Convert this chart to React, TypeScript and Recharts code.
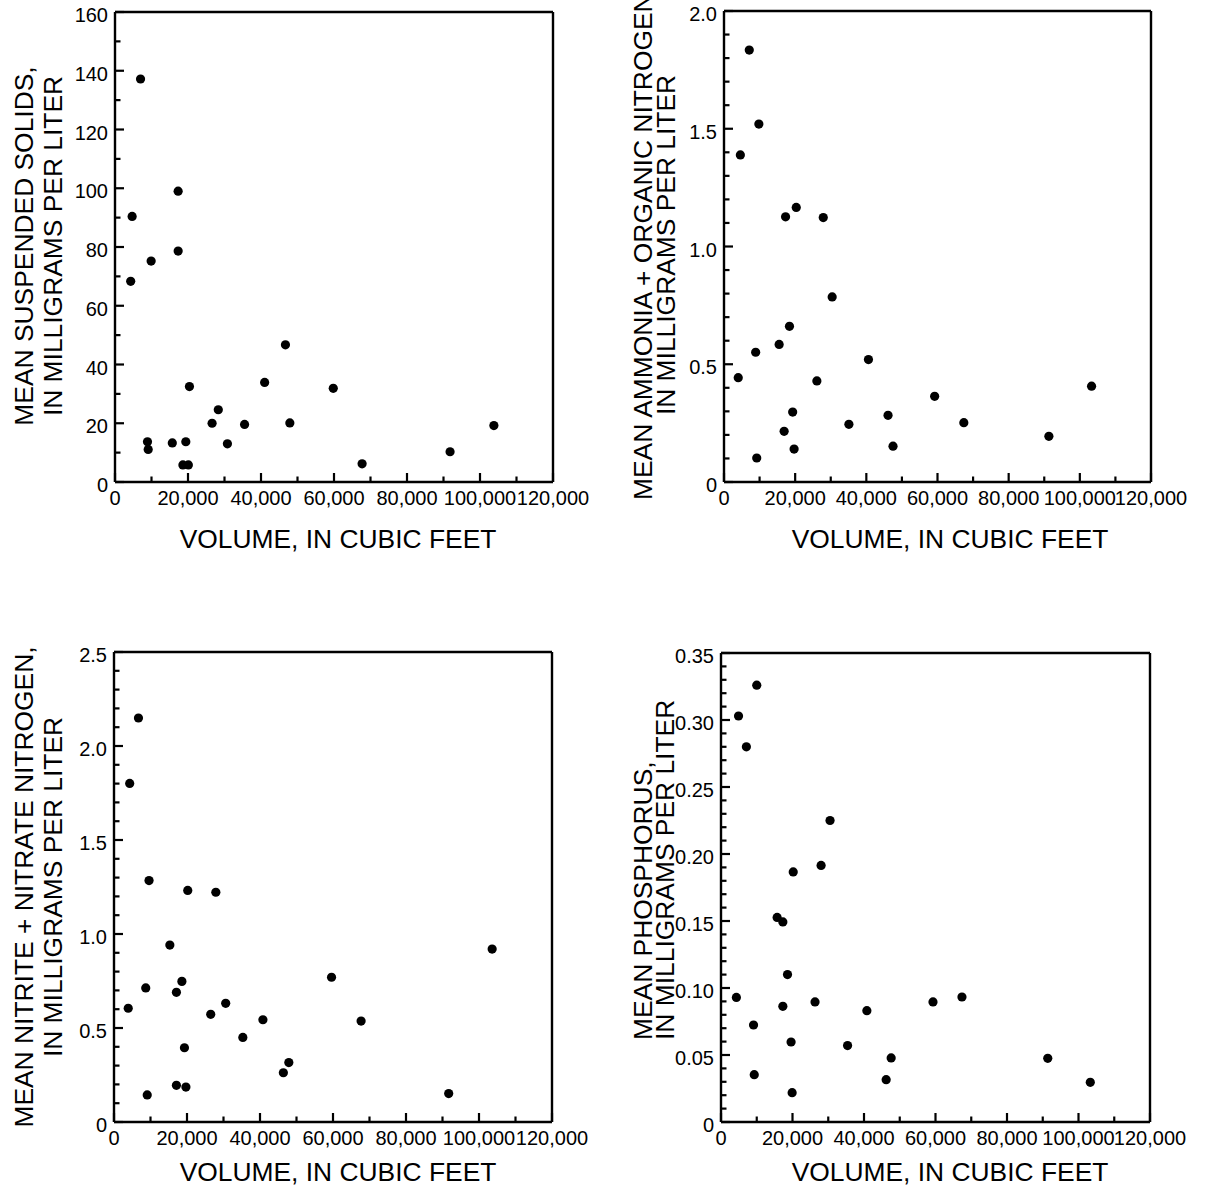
import React from 'react';
import { ScatterChart, Scatter, XAxis, YAxis } from 'recharts';

const FONT = '"Liberation Sans", Arial, Helvetica, sans-serif';

// ---- shared x axis ----
const volumeMajorTicks = [0, 20000, 40000, 60000, 80000, 100000, 120000];
const volumeMinorTicks = [10000, 30000, 50000, 70000, 90000, 110000];
const volumeTickLabels = ['0', '20,000', '40,000', '60,000', '80,000', '100,000', '120,000'];

// ---- panel 1: suspended solids ----
const solidsVolume = [7000, 4700, 17300, 17300, 9900, 4300, 46700, 41000, 59800, 20400, 28300, 26600, 35500, 47900, 103800, 8900, 9100, 15700, 19400, 30800, 18600, 20100, 91800, 67700];
const solidsValue = [137.2, 90.4, 99.0, 78.6, 75.2, 68.3, 46.7, 33.9, 31.9, 32.5, 24.6, 20.0, 19.6, 20.1, 19.2, 13.7, 11.1, 13.3, 13.7, 13.0, 5.8, 5.8, 10.3, 6.2];
const solidsMajorTicks = [0, 20, 40, 60, 80, 100, 120, 140, 160];
const solidsMinorTicks = [10, 30, 50, 70, 90, 110, 130, 150];
const solidsTickLabels = ['0', '20', '40', '60', '80', '100', '120', '140', '160'];

// ---- panel 2: ammonia + organic nitrogen ----
const ammoniaVolume = [7100, 9800, 4600, 17300, 20300, 27900, 30400, 18400, 15500, 8900, 4000, 40600, 26100, 59200, 103300, 19300, 46100, 35100, 67400, 16900, 91300, 19700, 47500, 9200];
const ammoniaValue = [1.834, 1.52, 1.389, 1.126, 1.166, 1.123, 0.786, 0.661, 0.584, 0.551, 0.443, 0.52, 0.429, 0.364, 0.407, 0.297, 0.283, 0.245, 0.252, 0.215, 0.194, 0.14, 0.152, 0.102];
const ammoniaMajorTicks = [0, 0.5, 1.0, 1.5, 2.0];
const ammoniaMinorTicks = [0.1, 0.2, 0.3, 0.4, 0.6, 0.7, 0.8, 0.9, 1.1, 1.2, 1.3, 1.4, 1.6, 1.7, 1.8, 1.9];
const ammoniaTickLabels = ['0', '0.5', '1.0', '1.5', '2.0'];

// ---- panel 3: nitrite + nitrate nitrogen ----
const nitrateVolume = [6700, 4300, 9600, 20200, 27900, 15300, 103600, 59600, 8700, 18600, 17100, 3900, 30600, 26500, 40800, 67700, 35300, 19300, 47900, 46400, 17100, 19700, 9100, 91700];
const nitrateValue = [2.149, 1.801, 1.284, 1.232, 1.222, 0.941, 0.92, 0.77, 0.713, 0.748, 0.69, 0.605, 0.631, 0.573, 0.544, 0.537, 0.45, 0.395, 0.316, 0.262, 0.195, 0.186, 0.144, 0.151];
const nitrateMajorTicks = [0, 0.5, 1.0, 1.5, 2.0, 2.5];
const nitrateMinorTicks = [0.1, 0.2, 0.3, 0.4, 0.6, 0.7, 0.8, 0.9, 1.1, 1.2, 1.3, 1.4, 1.6, 1.7, 1.8, 1.9, 2.1, 2.2, 2.3, 2.4];
const nitrateTickLabels = ['0', '0.5', '1.0', '1.5', '2.0', '2.5'];

// ---- panel 4: phosphorus ----
const phosphorusVolume = [10000, 4900, 7100, 30500, 28000, 20200, 15700, 17300, 18600, 4300, 67400, 26300, 59300, 17300, 40800, 9100, 19600, 35400, 47600, 91400, 9300, 46200, 103300, 19900];
const phosphorusValue = [0.326, 0.303, 0.28, 0.225, 0.1915, 0.1866, 0.1527, 0.1493, 0.110, 0.093, 0.0933, 0.0896, 0.0896, 0.0863, 0.0831, 0.0724, 0.0597, 0.057, 0.0478, 0.0475, 0.0353, 0.0316, 0.0296, 0.0219];
const phosphorusMajorTicks = [0, 0.05, 0.1, 0.15, 0.2, 0.25, 0.3, 0.35];
const phosphorusMinorTicks = [0.01, 0.02, 0.03, 0.04, 0.06, 0.07, 0.08, 0.09, 0.11, 0.12, 0.13, 0.14, 0.16, 0.17, 0.18, 0.19, 0.21, 0.22, 0.23, 0.24, 0.26, 0.27, 0.28, 0.29, 0.31, 0.32, 0.33, 0.34];
const phosphorusTickLabels = ['0', '0.05', '0.10', '0.15', '0.20', '0.25', '0.30', '0.35'];

const MAJOR = 9;
const MINOR = 5.5;
const TICK_W = 2.2;

const findMajor = (majors: number[], v: number) => majors.findIndex((m) => Math.abs(m - v) < 1e-9);

const merge = (a: number[], b: number[]) => [...a, ...b].sort((p, q) => p - q);

const makeTick = (side: string, majors: number[], labels: string[] | null) => {
  const TickComp = (props: any) => {
    const x = Number(props.x);
    const y = Number(props.y);
    const i = findMajor(majors, Number(props.payload.value));
    const len = i >= 0 ? MAJOR : MINOR;
    let d = '';
    if (side === 'bottom') d = `M${x},${y}L${x},${y - len}`;
    else if (side === 'top') d = `M${x},${y}L${x},${y + len}`;
    else if (side === 'left') d = `M${x},${y}L${x + len},${y}`;
    else d = `M${x},${y}L${x - len},${y}`;
    let label = null;
    if (labels && i >= 0) {
      if (side === 'bottom') {
        label = (
          <text x={x} y={y + 23} textAnchor="middle" fontSize={20} fontFamily={FONT} fill="#000">
            {labels[i]}
          </text>
        );
      } else if (side === 'left') {
        label = (
          <text x={x - 7} y={y + 10} textAnchor="end" fontSize={20} fontFamily={FONT} fill="#000">
            {labels[i]}
          </text>
        );
      }
    }
    return (
      <g>
        <path d={d} stroke="#000" strokeWidth={TICK_W} fill="none" />
        {label}
      </g>
    );
  };
  return TickComp;
};

const Dot = (props: any) => <circle cx={props.cx} cy={props.cy} r={4.6} fill="#000" />;

type PanelProps = {
  left: number;
  top: number;
  plot: { top: number; right: number; bottom: number; left: number };
  volumes: number[];
  values: number[];
  yMax: number;
  yMajors: number[];
  yMinors: number[];
  yLabels: string[];
};

const axisLineStyle = { stroke: '#000', strokeWidth: 2.4 };

function Panel(p: PanelProps) {
  const data = p.volumes.map((v, i) => ({ x: v, y: p.values[i] }));
  const xTicks = merge(volumeMajorTicks, volumeMinorTicks);
  const yTicks = merge(p.yMajors, p.yMinors);
  const margin = {
    top: p.plot.top - 1,
    right: p.plot.right - 1,
    bottom: p.plot.bottom - 1,
    left: p.plot.left - 1,
  };
  return (
    <div style={{ position: 'absolute', left: p.left, top: p.top }}>
      <ScatterChart width={616} height={597} margin={margin}>
        <XAxis
          xAxisId="b"
          type="number"
          dataKey="x"
          domain={[0, 120000]}
          ticks={xTicks}
          interval={0}
          tickSize={0}
          tickMargin={0}
          height={1}
          axisLine={axisLineStyle}
          tickLine={false}
          tick={makeTick('bottom', volumeMajorTicks, volumeTickLabels)}
        />
        <XAxis
          xAxisId="t"
          orientation="top"
          type="number"
          dataKey="x"
          domain={[0, 120000]}
          ticks={xTicks}
          interval={0}
          tickSize={0}
          tickMargin={0}
          height={1}
          axisLine={axisLineStyle}
          tickLine={false}
          tick={makeTick('top', volumeMajorTicks, null)}
        />
        <YAxis
          yAxisId="l"
          type="number"
          dataKey="y"
          domain={[0, p.yMax]}
          ticks={yTicks}
          interval={0}
          tickSize={0}
          tickMargin={0}
          width={1}
          axisLine={axisLineStyle}
          tickLine={false}
          tick={makeTick('left', p.yMajors, p.yLabels)}
        />
        <YAxis
          yAxisId="r"
          orientation="right"
          type="number"
          dataKey="y"
          domain={[0, p.yMax]}
          ticks={yTicks}
          interval={0}
          tickSize={0}
          tickMargin={0}
          width={1}
          axisLine={axisLineStyle}
          tickLine={false}
          tick={makeTick('right', p.yMajors, null)}
        />
        <Scatter data={data} xAxisId="b" yAxisId="l" isAnimationActive={false} shape={Dot} />
      </ScatterChart>
    </div>
  );
}

const titleStyle = { fontSize: 26.4, fontFamily: FONT, fill: '#000' } as const;

function VText({ x, y, anchor, children }: { x: number; y: number; anchor: 'middle' | 'start'; children: React.ReactNode }) {
  return (
    <text x={x} y={y} transform={`rotate(-90 ${x} ${y})`} textAnchor={anchor} {...titleStyle}>
      {children}
    </text>
  );
}

function Titles() {
  return (
    <svg width={1232} height={1194} style={{ position: 'absolute', left: 0, top: 0, pointerEvents: 'none' }}>
      <text x={338} y={548} textAnchor="middle" {...titleStyle}>VOLUME, IN CUBIC FEET</text>
      <text x={950} y={548} textAnchor="middle" {...titleStyle}>VOLUME, IN CUBIC FEET</text>
      <text x={338} y={1181} textAnchor="middle" {...titleStyle}>VOLUME, IN CUBIC FEET</text>
      <text x={950} y={1181} textAnchor="middle" {...titleStyle}>VOLUME, IN CUBIC FEET</text>
      <VText x={33} y={246} anchor="middle">MEAN SUSPENDED SOLIDS,</VText>
      <VText x={62} y={246} anchor="middle">IN MILLIGRAMS PER LITER</VText>
      <VText x={652} y={243} anchor="middle">MEAN AMMONIA + ORGANIC NITROGEN,</VText>
      <VText x={675} y={245} anchor="middle">IN MILLIGRAMS PER LITER</VText>
      <VText x={33} y={887} anchor="middle">MEAN NITRITE + NITRATE NITROGEN,</VText>
      <VText x={62} y={887} anchor="middle">IN MILLIGRAMS PER LITER</VText>
      <VText x={652} y={1040} anchor="start">MEAN PHOSPHORUS,</VText>
      <VText x={674} y={1040} anchor="start">IN MILLIGRAMS PER LITER</VText>
    </svg>
  );
}

export default function App() {
  return (
    <div style={{ position: 'absolute', left: 0, top: 0, width: 1232, height: 1194, background: '#fff' }}>
      <Panel
        left={0}
        top={0}
        plot={{ top: 12, right: 63, bottom: 115, left: 115 }}
        volumes={solidsVolume}
        values={solidsValue}
        yMax={160}
        yMajors={solidsMajorTicks}
        yMinors={solidsMinorTicks}
        yLabels={solidsTickLabels}
      />
      <Panel
        left={616}
        top={0}
        plot={{ top: 11, right: 81, bottom: 115, left: 108 }}
        volumes={ammoniaVolume}
        values={ammoniaValue}
        yMax={2.0}
        yMajors={ammoniaMajorTicks}
        yMinors={ammoniaMinorTicks}
        yLabels={ammoniaTickLabels}
      />
      <Panel
        left={0}
        top={597}
        plot={{ top: 55, right: 64, bottom: 72, left: 114 }}
        volumes={nitrateVolume}
        values={nitrateValue}
        yMax={2.5}
        yMajors={nitrateMajorTicks}
        yMinors={nitrateMinorTicks}
        yLabels={nitrateTickLabels}
      />
      <Panel
        left={616}
        top={597}
        plot={{ top: 56, right: 82, bottom: 72, left: 105 }}
        volumes={phosphorusVolume}
        values={phosphorusValue}
        yMax={0.35}
        yMajors={phosphorusMajorTicks}
        yMinors={phosphorusMinorTicks}
        yLabels={phosphorusTickLabels}
      />
      <Titles />
    </div>
  );
}
